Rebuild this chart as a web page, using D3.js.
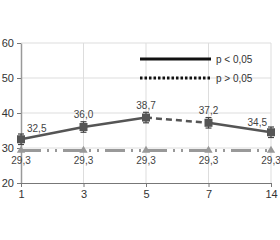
<!DOCTYPE html>
<html lang="en">
  <head>
    <meta charset="UTF-8" />
    <title>Chart</title>
    <script src="https://d3js.org/d3.v7.min.js"></script>
    <style>
      body {
        margin: 0;
        background: #fff;
      }
      svg {
        font-family: "Liberation Sans", Arial, sans-serif;
      }
    </style>
  </head>
  <body>
    <svg id="chart" width="280" height="240"></svg>
    <script>
      const days = ["1", "3", "5", "7", "14"];
      const values = [32.5, 36.0, 38.7, 37.2, 34.5];
      const errors = [1.5, 1.5, 1.5, 1.5, 1.5];
      const baseline = [29.3, 29.3, 29.3, 29.3, 29.3];
      const yTicks = [20, 30, 40, 50, 60];
      // segment styles: true = significant (solid)
      const significant = [true, true, false, true];

      const svg = d3.select("#chart");
      const mLeft = 21, mRight = 271, mTop = 43, mBottom = 183;

      const x = d3.scalePoint().domain(days).range([mLeft, mRight]);
      const y = d3.scaleLinear().domain([20, 60]).range([mBottom, mTop]);

      const fmt = (v) => v.toFixed(1).replace(".", ",");

      // grid
      svg.append("g")
        .selectAll("line")
        .data(yTicks.slice(1))
        .enter()
        .append("line")
        .attr("x1", mLeft)
        .attr("x2", mRight)
        .attr("y1", (d) => y(d))
        .attr("y2", (d) => y(d))
        .attr("stroke", "#ddd")
        .attr("stroke-width", 1);

      svg.append("g")
        .selectAll("line")
        .data(days.slice(1))
        .enter()
        .append("line")
        .attr("x1", (d) => x(d))
        .attr("x2", (d) => x(d))
        .attr("y1", mTop)
        .attr("y2", mBottom)
        .attr("stroke", "#ddd")
        .attr("stroke-width", 1);

      // axes
      const yAxis = svg.append("g")
        .attr("transform", `translate(${mLeft},0)`)
        .call(d3.axisLeft(y).tickValues(yTicks).tickSize(4).tickPadding(3).tickSizeOuter(0));
      yAxis.select(".domain").attr("stroke", "#999").attr("stroke-width", 1.5);
      yAxis.selectAll(".tick line").attr("stroke", "#777");
      yAxis.selectAll("text").attr("fill", "#333").style("font-size", "11px");

      const xAxis = svg.append("g")
        .attr("transform", `translate(0,${mBottom})`)
        .call(d3.axisBottom(x).tickSize(4).tickPadding(3).tickSizeOuter(0));
      xAxis.select(".domain").attr("stroke", "#777").attr("stroke-width", 1.2);
      xAxis.selectAll(".tick line").attr("stroke", "#777");
      xAxis.selectAll("text").attr("fill", "#333").style("font-size", "11px");

      // baseline series
      svg.append("path")
        .datum(baseline)
        .attr("fill", "none")
        .attr("stroke", "#999")
        .attr("stroke-width", 3)
        .attr("stroke-dasharray", "20,6,2,6,2,6")
        .attr("d", d3.line().x((d, i) => x(days[i])).y((d) => y(d)));

      svg.append("g")
        .selectAll("path")
        .data(baseline)
        .enter()
        .append("path")
        .attr("transform", (d, i) => `translate(${x(days[i])},${y(d)})`)
        .attr("d", d3.symbol().type(d3.symbolTriangle).size(30))
        .attr("fill", "#999");

      svg.append("g")
        .selectAll("text")
        .data(baseline)
        .enter()
        .append("text")
        .attr("x", (d, i) => x(days[i]))
        .attr("y", (d) => y(d) + 14)
        .attr("text-anchor", "middle")
        .attr("fill", "#444")
        .style("font-size", "10px")
        .text((d) => fmt(d));

      // main series segments
      svg.append("g")
        .selectAll("line")
        .data(significant)
        .enter()
        .append("line")
        .attr("x1", (d, i) => x(days[i]))
        .attr("y1", (d, i) => y(values[i]))
        .attr("x2", (d, i) => x(days[i + 1]))
        .attr("y2", (d, i) => y(values[i + 1]))
        .attr("stroke", "#555")
        .attr("stroke-width", 2.5)
        .attr("stroke-dasharray", (d) => (d ? null : "6,4"));

      // error bars
      const eb = svg.append("g")
        .selectAll("g")
        .data(values)
        .enter()
        .append("g")
        .attr("stroke", "#444")
        .attr("stroke-width", 1.2);
      eb.append("line")
        .attr("x1", (d, i) => x(days[i]))
        .attr("x2", (d, i) => x(days[i]))
        .attr("y1", (d, i) => y(d + errors[i]))
        .attr("y2", (d, i) => y(d - errors[i]));
      eb.append("line")
        .attr("x1", (d, i) => x(days[i]) - 3)
        .attr("x2", (d, i) => x(days[i]) + 3)
        .attr("y1", (d, i) => y(d + errors[i]))
        .attr("y2", (d, i) => y(d + errors[i]));
      eb.append("line")
        .attr("x1", (d, i) => x(days[i]) - 3)
        .attr("x2", (d, i) => x(days[i]) + 3)
        .attr("y1", (d, i) => y(d - errors[i]))
        .attr("y2", (d, i) => y(d - errors[i]));

      svg.append("g")
        .selectAll("rect")
        .data(values)
        .enter()
        .append("rect")
        .attr("x", (d, i) => x(days[i]) - 4)
        .attr("y", (d) => y(d) - 4)
        .attr("width", 8)
        .attr("height", 8)
        .attr("fill", "#555");

      // value labels
      const labelDx = [6, 0, 0, 0, -4];
      const labelDy = [-7, -9, -9, -9, -6];
      svg.append("g")
        .selectAll("text")
        .data(values)
        .enter()
        .append("text")
        .attr("x", (d, i) => x(days[i]) + labelDx[i])
        .attr("y", (d, i) => y(d) + labelDy[i])
        .attr("text-anchor", (d, i) => (i === 0 ? "start" : i === 4 ? "end" : "middle"))
        .attr("fill", "#444")
        .style("font-size", "10px")
        .text((d) => fmt(d));

      // legend
      const legend = [
        { label: "p < 0,05", dash: null, y: 59 },
        { label: "p > 0,05", dash: "2.5,2", y: 78 },
      ];
      const lg = svg.append("g")
        .selectAll("g")
        .data(legend)
        .enter()
        .append("g");
      lg.append("line")
        .attr("x1", 140)
        .attr("x2", 211)
        .attr("y1", (d) => d.y)
        .attr("y2", (d) => d.y)
        .attr("stroke", "#111")
        .attr("stroke-width", 3)
        .attr("stroke-dasharray", (d) => d.dash);
      lg.append("text")
        .attr("x", 216)
        .attr("y", (d) => d.y + 4)
        .attr("fill", "#333")
        .style("font-size", "10px")
        .text((d) => d.label);
    </script>
  </body>
</html>
